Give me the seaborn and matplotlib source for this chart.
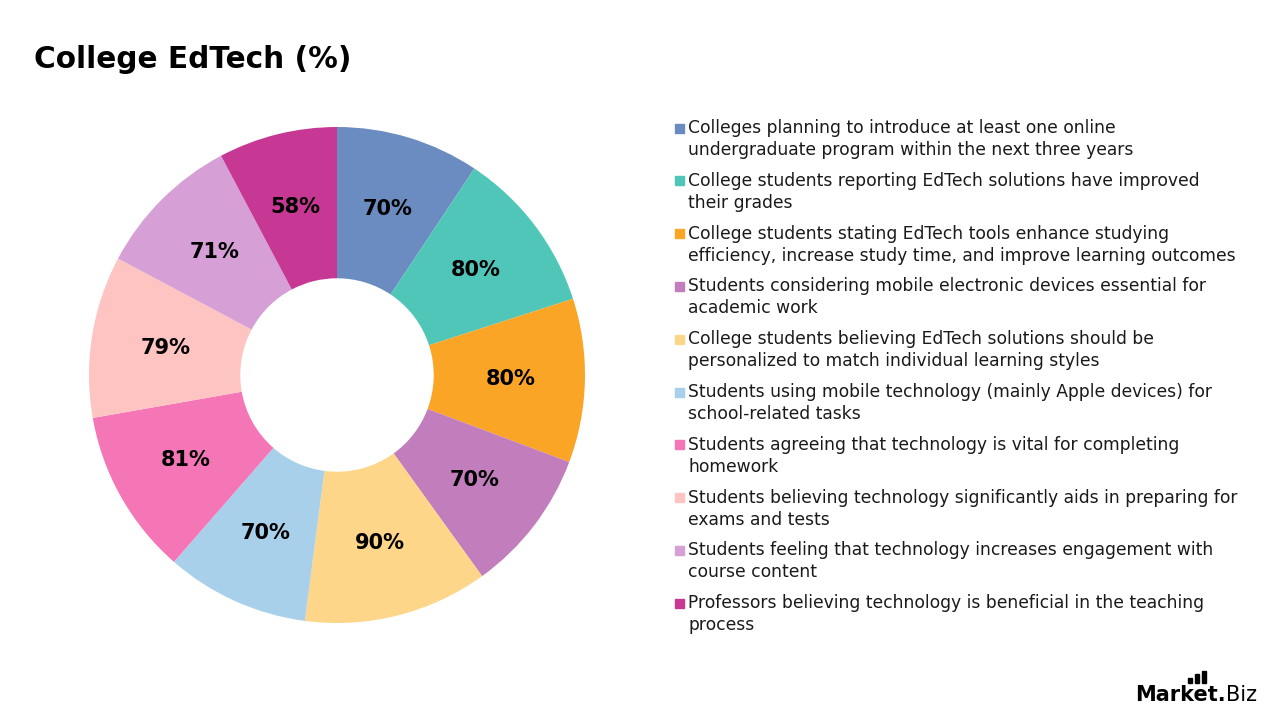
import matplotlib
matplotlib.use("Agg")
import matplotlib.pyplot as plt
from matplotlib.patches import Rectangle
import seaborn as sns

# Chart data
categories = [
    "Colleges planning to introduce at least one online\nundergraduate program within the next three years",
    "College students reporting EdTech solutions have improved\ntheir grades",
    "College students stating EdTech tools enhance studying\nefficiency, increase study time, and improve learning outcomes",
    "Students considering mobile electronic devices essential for\nacademic work",
    "College students believing EdTech solutions should be\npersonalized to match individual learning styles",
    "Students using mobile technology (mainly Apple devices) for\nschool-related tasks",
    "Students agreeing that technology is vital for completing\nhomework",
    "Students believing technology significantly aids in preparing for\nexams and tests",
    "Students feeling that technology increases engagement with\ncourse content",
    "Professors believing technology is beneficial in the teaching\nprocess",
]
values = [70, 80, 80, 70, 90, 70, 81, 79, 71, 58]
colors = ["#6B8CC0", "#50C6B8", "#FBA526", "#C17DBC", "#FED689",
          "#A9D0EA", "#F476B6", "#FEC4C1", "#D6A0D6", "#C73895"]

sns.set_theme(style="white")
plt.rcParams["font.family"] = ["DejaVu Sans"]

W, H = 1280, 720
fig = plt.figure(figsize=(12.8, 7.2), dpi=100)
fig.patch.set_facecolor("white")

# donut: centre and radius in pixels
cx, cy, r = 337, 375, 248
ax = fig.add_axes([(cx - r) / W, 1 - (cy + r) / H, 2 * r / W, 2 * r / H])
palette = sns.color_palette(colors)
total = sum(values)
wedges, _, autotexts = ax.pie(
    values,
    colors=palette,
    startangle=90,
    counterclock=False,
    radius=1,
    wedgeprops=dict(width=0.61, linewidth=0),
    autopct=lambda p: f"{p * total / 100:.0f}%",
    pctdistance=0.70,
    textprops=dict(fontsize=15, fontweight="bold", color="black"),
)
ax.set_xlim(-1, 1)
ax.set_ylim(-1, 1)
ax.axis("off")

# title
fig.text(34 / W, 1 - 60 / H, "College EdTech (%)", fontsize=21.3,
         fontweight="bold", ha="left", va="center", color="black")

# legend, drawn by hand so the marker sits on the first line
y0, step, line_h = 128, 52.8, 22
for i, (lab, col) in enumerate(zip(categories, palette)):
    y = y0 + i * step
    fig.patches.append(Rectangle((675 / W, 1 - (y + 4.5) / H), 9 / W, 9 / H,
                                 transform=fig.transFigure, color=col))
    for j, line in enumerate(lab.split("\n")):
        fig.text(688 / W, 1 - (y + j * line_h) / H, line, fontsize=12.3,
                 ha="left", va="center", color="#1a1a1a")

# logo
t1 = fig.text(1135 / W, 1 - 701 / H, "Market.", fontsize=15, fontweight="bold",
              ha="left", va="baseline", color="black")
fig.canvas.draw()
bb = t1.get_window_extent()
fig.text(bb.x1 / W, 1 - 701 / H, "Biz", fontsize=15, ha="left", va="baseline", color="black")
for bx, top in [(1188, 678), (1195, 674), (1202, 671)]:
    fig.patches.append(Rectangle((bx / W, 1 - 683 / H), 4 / W, (683 - top) / H,
                                 transform=fig.transFigure, color="black"))

fig.savefig("out.png", dpi=100)
